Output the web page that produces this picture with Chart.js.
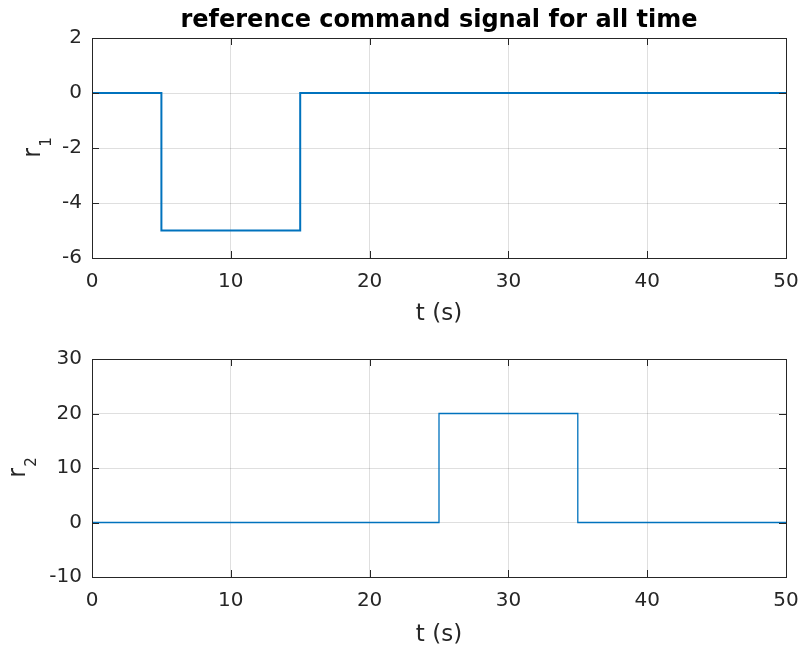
<!DOCTYPE html>
<html>
<head>
<meta charset="utf-8">
<script src="https://cdn.jsdelivr.net/npm/chart.js@4.4.1/dist/chart.umd.min.js"></script>
<style>
  html, body { margin: 0; padding: 0; background: #fff; }
  #wrap { position: relative; width: 801px; height: 646px; }
  canvas { position: absolute; left: 0; }
</style>
</head>
<body>
<div id="wrap">
  <canvas id="c1" width="801" height="340" style="top:0"></canvas>
  <canvas id="c2" width="801" height="306" style="top:340px"></canvas>
</div>
<script>
// ── Data ────────────────────────────────────────────────────
const t1 = [0, 5, 5, 15, 15, 50];
const r1 = [0, 0, -5, -5, 0, 0];
const t2 = [0, 25, 25, 35, 35, 50];
const r2 = [0, 0, 20, 20, 0, 0];

const xTicks = [0, 10, 20, 30, 40, 50];
const y1Ticks = [-6, -4, -2, 0, 2];
const y2Ticks = [-10, 0, 10, 20, 30];

const FONT = '"DejaVu Sans", sans-serif';
const AXC = '#262626';

// ── Frame, inward ticks, labels ─────────────────────────────
const matlabAxes = {
  id: 'matlabAxes',
  afterDraw(chart, args, opts) {
    const { ctx, chartArea: a, scales } = chart;
    ctx.save();
    ctx.strokeStyle = AXC;
    ctx.lineWidth = 1;
    ctx.strokeRect(Math.round(a.left) + 0.5, Math.round(a.top) + 0.5,
      Math.round(a.right - a.left), Math.round(a.bottom - a.top));

    ctx.beginPath();
    xTicks.forEach(v => {
      const px = Math.round(scales.x.getPixelForValue(v)) + 0.5;
      ctx.moveTo(px, a.bottom); ctx.lineTo(px, a.bottom - 7);
      ctx.moveTo(px, a.top); ctx.lineTo(px, a.top + 7);
    });
    opts.yTicks.forEach(v => {
      const py = Math.round(scales.y.getPixelForValue(v)) + 0.5;
      ctx.moveTo(a.left, py); ctx.lineTo(a.left + 7, py);
      ctx.moveTo(a.right, py); ctx.lineTo(a.right - 7, py);
    });
    ctx.stroke();

    const cx = (a.left + a.right) / 2;
    if (opts.title) {
      ctx.fillStyle = '#000';
      ctx.font = 'bold 24px ' + FONT;
      ctx.textAlign = 'center';
      ctx.textBaseline = 'alphabetic';
      ctx.fillText(opts.title, cx, 27);
    }

    ctx.fillStyle = AXC;
    ctx.font = '23px ' + FONT;
    ctx.textAlign = 'center';
    ctx.textBaseline = 'alphabetic';
    ctx.fillText('t (s)', cx, a.bottom + opts.xTitleOff);

    // y label with subscript
    const cy = (a.top + a.bottom) / 2;
    ctx.translate(opts.yTitleX, cy);
    ctx.rotate(-Math.PI / 2);
    ctx.textAlign = 'left';
    ctx.font = '24px ' + FONT;
    const wR = ctx.measureText('r').width;
    ctx.font = '15px ' + FONT;
    const wS = ctx.measureText(opts.sub).width;
    const x0 = -(wR + wS) / 2;
    ctx.font = '24px ' + FONT;
    ctx.fillText('r', x0, 0);
    ctx.font = '15px ' + FONT;
    ctx.fillText(opts.sub, x0 + wR + 1, 11);
    ctx.restore();
  }
};

function makeChart(id, tx, ry, yMin, yMax, yStep, lw, o) {
  return new Chart(document.getElementById(id), {
    type: 'line',
    data: {
      datasets: [{
        data: tx.map((t, i) => ({ x: t, y: ry[i] })),
        borderColor: '#0072BD',
        borderWidth: lw,
        pointRadius: 0,
        tension: 0,
        fill: false
      }]
    },
    options: {
      responsive: false,
      animation: false,
      devicePixelRatio: 1,
      layout: { padding: { left: 0, right: o.right, top: o.top, bottom: 0 } },
      plugins: {
        legend: { display: false },
        tooltip: { enabled: false },
        matlabAxes: o
      },
      scales: {
        x: {
          type: 'linear', min: 0, max: 50,
          afterFit: s => { s.height = o.xH; s.paddingLeft = 0; s.paddingRight = 0; },
          grid: { color: 'rgba(38,38,38,0.15)', drawTicks: false },
          border: { display: false },
          ticks: { stepSize: 10, padding: 12, color: AXC, font: { family: FONT, size: 20 } }
        },
        y: {
          min: yMin, max: yMax,
          afterFit: s => { s.width = 92; s.paddingTop = 0; s.paddingBottom = 0; },
          grid: { color: 'rgba(38,38,38,0.15)', drawTicks: false },
          border: { display: false },
          ticks: { stepSize: yStep, padding: 10, color: AXC, font: { family: FONT, size: 20 } }
        }
      }
    },
    plugins: [matlabAxes]
  });
}

makeChart('c1', t1, r1, -6, 2, 2, 2, {
  title: 'reference command signal for all time', sub: '1',
  yTicks: y1Ticks, top: 38, right: 15, xH: 82, xTitleOff: 62, yTitleX: 40
});
makeChart('c2', t2, r2, -10, 30, 10, 1.3, {
  title: '', sub: '2',
  yTicks: y2Ticks, top: 19, right: 15, xH: 69, xTitleOff: 64, yTitleX: 25
});
</script>
</body>
</html>
